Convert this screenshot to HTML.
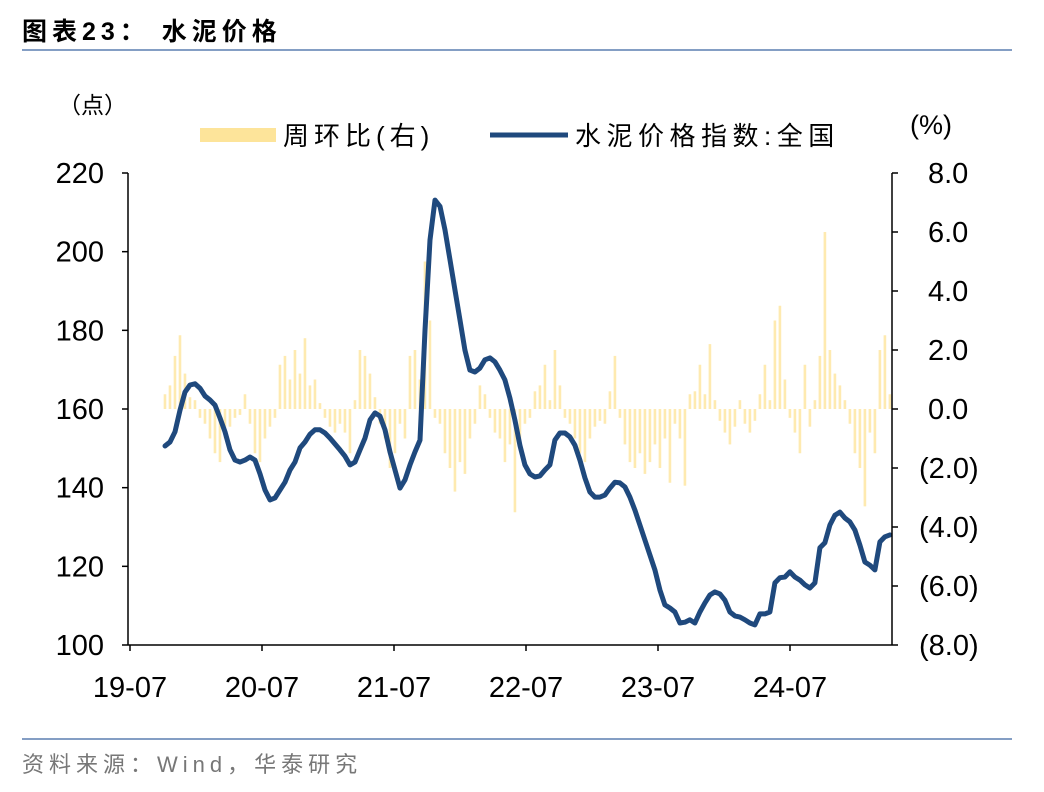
<!DOCTYPE html>
<html><head><meta charset="utf-8"><style>
body{margin:0;background:#fff;width:1044px;height:792px;overflow:hidden;font-family:"Liberation Sans","Noto Sans CJK SC",sans-serif;}
svg{position:absolute;left:0;top:0}
</style></head><body>
<svg id="c" width="1044" height="792">
<text x="22" y="40" font-size="25" font-weight="bold" letter-spacing="5" fill="#000" font-family="Liberation Sans,Noto Sans CJK SC,sans-serif">图表23：  水泥价格</text>
<line x1="22" y1="50" x2="1012" y2="50" stroke="#5b7fb0" stroke-width="1.5"/>
<line x1="22" y1="739" x2="1012" y2="739" stroke="#5b7fb0" stroke-width="1.5"/>
<text x="22" y="772" font-size="22" letter-spacing="5" fill="#777" font-family="Liberation Sans,Noto Sans CJK SC,sans-serif">资料来源：Wind，华泰研究</text>
<text x="58" y="113" font-size="23" fill="#000" font-family="Liberation Sans,Noto Sans CJK SC,sans-serif">（点）</text>
<text x="910" y="134" font-size="27" fill="#000">(%)</text>
<g>
<rect x="200" y="128" width="76" height="14" fill="#fde49a"/>
<text x="283" y="145" font-size="26" letter-spacing="5" fill="#000" font-family="Liberation Sans,Noto Sans CJK SC,sans-serif">周环比(右)</text>
<line x1="490" y1="135" x2="568" y2="135" stroke="#1f497d" stroke-width="5"/>
<text x="575" y="145" font-size="26" letter-spacing="5.5" fill="#000" font-family="Liberation Sans,Noto Sans CJK SC,sans-serif">水泥价格指数:全国</text>
</g>
<g id="bars"></g>
<g id="line"></g>
<g id="axes"></g>
</svg>
<script>
const xTickLabels=["19-07","20-07","21-07","22-07","23-07","24-07"];
const leftTicks=[100,120,140,160,180,200,220];
const rightTicks=[-8,-6,-4,-2,0,2,4,6,8];
const seriesStartMonth=3.18, seriesStepMonth=0.4545;
const indexValues=[150.6,151.6,154.2,159.7,164.3,166.1,166.4,165.3,163.3,162.3,161.0,157.7,154.2,149.6,147.0,146.5,147.0,147.8,147.0,143.5,139.4,136.9,137.4,139.4,141.4,144.5,146.5,150.1,151.6,153.6,154.7,154.7,153.9,152.6,151.1,149.6,148.0,145.8,146.5,149.6,152.6,157.2,159.0,158.2,154.7,149.1,144.5,139.9,142.0,145.8,149.1,152.1,180.0,203.0,213.1,211.5,205.5,197.9,190.2,182.6,175.0,169.9,169.4,170.4,172.5,173.0,172.0,169.9,167.4,162.8,157.2,150.8,145.8,143.5,142.7,143.0,144.5,145.8,152.1,153.9,153.9,152.9,150.8,147.0,142.5,138.9,137.6,137.6,138.1,139.9,141.4,141.2,140.2,137.6,134.3,130.5,126.7,122.9,119.1,114.0,110.2,109.4,108.4,105.6,105.8,106.4,105.6,108.4,110.7,112.7,113.5,113.0,111.4,108.4,107.4,107.1,106.4,105.6,105.1,107.9,107.9,108.4,115.8,117.1,117.3,118.6,117.3,116.5,115.3,114.5,115.8,124.7,126.0,130.5,133.0,133.8,132.3,131.3,129.2,125.4,121.1,120.3,119.1,126.2,127.5,128.0];
const wowValues=[0.5,0.8,1.8,2.5,1.2,0.4,0.3,-0.3,-0.5,-1.0,-1.5,-1.8,-1.0,-0.6,-0.3,-0.2,0.5,-0.5,-1.5,-1.8,-1.0,-0.6,-0.3,1.5,1.8,1.0,2.0,1.2,2.4,0.8,1.0,0.2,-0.3,-0.6,-0.8,-0.5,-0.8,-1.5,0.3,2.0,1.8,1.2,0.4,-0.5,-1.0,-2.0,-1.5,-0.5,-1.0,1.8,2.0,1.0,5.0,3.0,-0.3,-0.5,-1.5,-2.0,-2.8,-1.8,-2.2,-1.0,-0.5,0.8,0.5,-0.3,-0.8,-1.0,-1.8,-1.2,-3.5,-1.0,-0.5,-0.3,0.6,0.8,1.5,0.3,2.0,0.8,-0.3,-0.5,-1.0,-1.5,-1.8,-1.0,-0.6,-0.4,-0.5,0.6,1.8,-0.3,-1.2,-1.8,-2.0,-1.5,-2.2,-1.8,-1.2,-2.0,-1.0,-2.5,-0.5,-1.0,-2.6,0.5,0.6,1.5,0.5,2.2,0.3,-0.4,-0.8,-1.2,-0.6,0.3,-0.5,-0.8,-0.4,0.5,1.5,0.3,3.0,3.5,1.0,-0.3,-0.8,-1.5,1.5,-0.6,0.3,1.8,6.0,2.0,1.2,0.8,0.3,-0.5,-1.5,-2.0,-3.3,-0.8,-1.5,2.0,2.5,0.5];
const NS="http://www.w3.org/2000/svg";
const L=128,R=892,T=173,B=645;
const xMonth=m=>130+m*11;
const yLeft=v=>B-(v-100)/120*(B-T);
const yRight=v=>409-v*(B-T)/16;
function mk(tag,attrs,parent){const e=document.createElementNS(NS,tag);for(const k in attrs)e.setAttribute(k,attrs[k]);parent.appendChild(e);return e;}
const bars=document.getElementById('bars'),lineG=document.getElementById('line'),axes=document.getElementById('axes');
wowValues.forEach((v,i)=>{const x=xMonth(seriesStartMonth+i*seriesStepMonth);const y0=yRight(0),y1=yRight(v);
const r=mk('rect',{x:x-1.3,y:Math.min(y0,y1),width:2.6,height:Math.max(0.5,Math.abs(y1-y0)),fill:'#feeab0'},bars);

});
const pts=indexValues.map((v,i)=>xMonth(seriesStartMonth+i*seriesStepMonth).toFixed(1)+','+yLeft(v).toFixed(1)).join(' ');
const pl=mk('polyline',{points:pts,fill:'none',stroke:'#1f497d','stroke-width':5,'stroke-linejoin':'round','stroke-linecap':'round'},lineG);


mk('line',{x1:L,y1:T,x2:L,y2:B,stroke:'#000','stroke-width':1.5},axes);
mk('line',{x1:R,y1:T,x2:R,y2:B,stroke:'#000','stroke-width':1.5},axes);
mk('line',{x1:L,y1:B,x2:R,y2:B,stroke:'#000','stroke-width':1.5},axes);
leftTicks.forEach(v=>{const y=yLeft(v);mk('line',{x1:L-6,y1:y,x2:L,y2:y,stroke:'#000','stroke-width':1.5},axes);
const t=mk('text',{x:104,y:y+10,'font-size':29,'text-anchor':'end',fill:'#000'},axes);t.textContent=v;

});
rightTicks.forEach(v=>{const y=yRight(v);mk('line',{x1:R,y1:y,x2:R+6,y2:y,stroke:'#000','stroke-width':1.5},axes);
const t=mk('text',{x:v<0?919:928,y:y+10,'font-size':29,fill:'#000'},axes);t.textContent=v<0?'('+Math.abs(v).toFixed(1)+')':v.toFixed(1);

});
xTickLabels.forEach((s,i)=>{const x=xMonth(i*12);mk('line',{x1:x,y1:B,x2:x,y2:B+6,stroke:'#000','stroke-width':1.5},axes);
const t=mk('text',{x:x,y:B+52,'font-size':29,'text-anchor':'middle',fill:'#000'},axes);t.textContent=s;

});
</script>
</body></html>
